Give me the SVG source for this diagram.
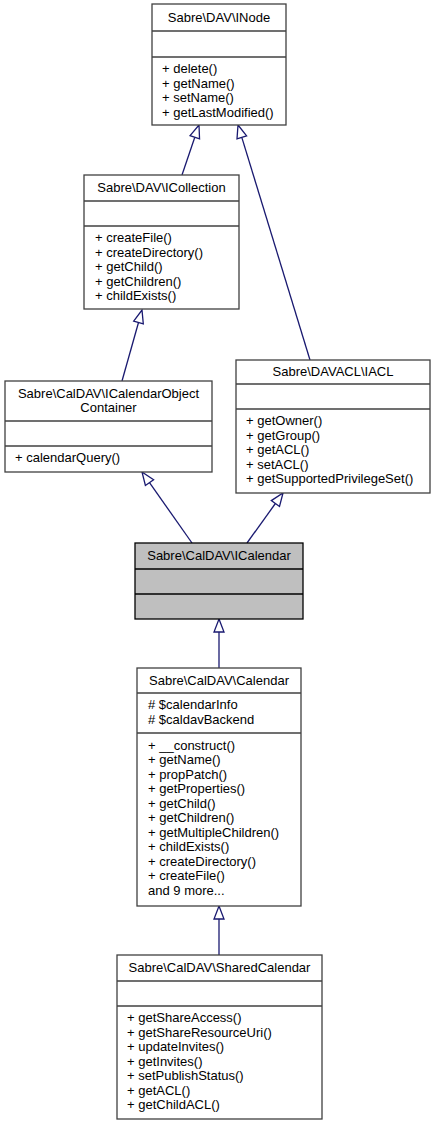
<svg xmlns="http://www.w3.org/2000/svg" width="431" height="1125" viewBox="0 0 431 1125">
<style>
.box{fill:#ffffff;stroke:#404040;stroke-width:1.3}
.cur{fill:#bfbfbf;stroke:#000000;stroke-width:1.3}
.sep{stroke:#404040;stroke-width:1.3}
.sepc{stroke:#000000;stroke-width:1.3}
text{font-family:"Liberation Sans",Arial,Helvetica,sans-serif;font-size:13px;fill:#000000}
.c{text-anchor:middle}
.edge{fill:none;stroke:#191970;stroke-width:1.3}
.head{fill:#ffffff;stroke:#191970;stroke-width:1.3}
</style>
<rect width="431" height="1125" fill="#ffffff"/>
<g id="connectors">
<line class="edge" x1="182" y1="175" x2="194.8" y2="137.3"/>
<polygon class="head" points="199,125 199.55,138.9 190.07,135.7"/>
<line class="edge" x1="310" y1="360" x2="241.8" y2="137.4"/>
<polygon class="head" points="238,125 246.6,135.9 237,138.9"/>
<line class="edge" x1="122" y1="381" x2="138.5" y2="322.5"/>
<polygon class="head" points="142,310 143.3,323.9 133.7,321.2"/>
<line class="edge" x1="192" y1="543" x2="149.5" y2="482.6"/>
<polygon class="head" points="142,472 153.6,479.8 145.4,485.5"/>
<line class="edge" x1="247" y1="543" x2="275.4" y2="503.5"/>
<polygon class="head" points="283,493 279.5,506.5 271.3,500.6"/>
<line class="edge" x1="219" y1="668" x2="219" y2="632"/>
<polygon class="head" points="219,619 224,632 214,632"/>
<line class="edge" x1="219" y1="955" x2="219" y2="919"/>
<polygon class="head" points="219,906 224,919 214,919"/>
</g>
<g id="INode">
<rect class="box" x="152" y="4" width="134" height="121"/>
<line class="sep" x1="152" y1="31" x2="286" y2="31"/>
<line class="sep" x1="152" y1="57" x2="286" y2="57"/>
<text class="c" x="219" y="22">Sabre\DAV\INode</text>
<text x="162" y="73">+ delete()</text>
<text x="162" y="87.5">+ getName()</text>
<text x="162" y="102">+ setName()</text>
<text x="162" y="116.5">+ getLastModified()</text>
</g>
<g id="ICollection">
<rect class="box" x="84" y="175" width="155" height="134"/>
<line class="sep" x1="84" y1="201" x2="239" y2="201"/>
<line class="sep" x1="84" y1="226" x2="239" y2="226"/>
<text class="c" x="161.5" y="191.5">Sabre\DAV\ICollection</text>
<text x="95" y="242">+ createFile()</text>
<text x="95" y="256.5">+ createDirectory()</text>
<text x="95" y="271">+ getChild()</text>
<text x="95" y="285.5">+ getChildren()</text>
<text x="95" y="300">+ childExists()</text>
</g>
<g id="ICalendarObjectContainer">
<rect class="box" x="5" y="381" width="207" height="91"/>
<line class="sep" x1="5" y1="421" x2="212" y2="421"/>
<line class="sep" x1="5" y1="446" x2="212" y2="446"/>
<text class="c" x="108.5" y="397.5">Sabre\CalDAV\ICalendarObject</text>
<text class="c" x="108.5" y="412">Container</text>
<text x="15" y="462">+ calendarQuery()</text>
</g>
<g id="IACL">
<rect class="box" x="236" y="360" width="194" height="133"/>
<line class="sep" x1="236" y1="384" x2="430" y2="384"/>
<line class="sep" x1="236" y1="409" x2="430" y2="409"/>
<text class="c" x="333" y="376">Sabre\DAVACL\IACL</text>
<text x="246" y="425">+ getOwner()</text>
<text x="246" y="439.5">+ getGroup()</text>
<text x="246" y="454">+ getACL()</text>
<text x="246" y="468.5">+ setACL()</text>
<text x="246" y="483">+ getSupportedPrivilegeSet()</text>
</g>
<g id="ICalendar">
<rect class="cur" x="135" y="543" width="168" height="76"/>
<line class="sepc" x1="135" y1="569" x2="303" y2="569"/>
<line class="sepc" x1="135" y1="594" x2="303" y2="594"/>
<text class="c" x="219" y="560">Sabre\CalDAV\ICalendar</text>
</g>
<g id="Calendar">
<rect class="box" x="137" y="668" width="164" height="238"/>
<line class="sep" x1="137" y1="693" x2="301" y2="693"/>
<line class="sep" x1="137" y1="733" x2="301" y2="733"/>
<text class="c" x="219" y="685">Sabre\CalDAV\Calendar</text>
<text x="148" y="709">#  $calendarInfo</text>
<text x="148" y="723.5">#  $caldavBackend</text>
<text x="148" y="749.5">+ __construct()</text>
<text x="148" y="764">+ getName()</text>
<text x="148" y="778.5">+ propPatch()</text>
<text x="148" y="793">+ getProperties()</text>
<text x="148" y="807.5">+ getChild()</text>
<text x="148" y="822">+ getChildren()</text>
<text x="148" y="836.5">+ getMultipleChildren()</text>
<text x="148" y="851">+ childExists()</text>
<text x="148" y="865.5">+ createDirectory()</text>
<text x="148" y="880">+ createFile()</text>
<text x="148" y="894.5">and 9 more...</text>
</g>
<g id="SharedCalendar">
<rect class="box" x="117" y="955" width="205" height="164"/>
<line class="sep" x1="117" y1="981" x2="322" y2="981"/>
<line class="sep" x1="117" y1="1006" x2="322" y2="1006"/>
<text class="c" x="219.5" y="971.5">Sabre\CalDAV\SharedCalendar</text>
<text x="127" y="1022">+ getShareAccess()</text>
<text x="127" y="1036.5">+ getShareResourceUri()</text>
<text x="127" y="1051">+ updateInvites()</text>
<text x="127" y="1065.5">+ getInvites()</text>
<text x="127" y="1080">+ setPublishStatus()</text>
<text x="127" y="1094.5">+ getACL()</text>
<text x="127" y="1109">+ getChildACL()</text>
</g>
</svg>
